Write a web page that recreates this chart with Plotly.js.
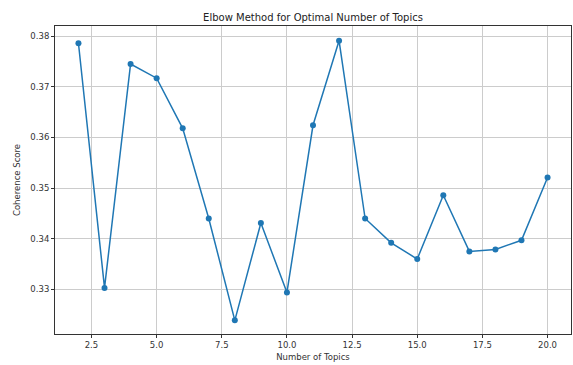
<!DOCTYPE html>
<html><head><meta charset="utf-8">
<script src="https://cdn.plot.ly/plotly-3.0.1.min.js"></script>
<style>html,body{margin:0;padding:0;background:#fff}#c{width:573px;height:365px}</style>
</head><body><div id="c"></div>
<script>
const numTopics = [2,3,4,5,6,7,8,9,10,11,12,13,14,15,16,17,18,19,20];
const coherence = [0.3786,0.3303,0.3745,0.3717,0.3618,0.3440,0.3239,0.3431,0.3294,0.3624,0.3791,0.3440,0.3392,0.3360,0.3486,0.3375,0.3379,0.3397,0.3521];
const xTicks = [2.5,5.0,7.5,10.0,12.5,15.0,17.5,20.0];
const xTickText = ["2.5","5.0","7.5","10.0","12.5","15.0","17.5","20.0"];
const yTicks = [0.33,0.34,0.35,0.36,0.37,0.38];
const yTickText = ["0.33","0.34","0.35","0.36","0.37","0.38"];

const font = {family:"DejaVu Sans, sans-serif", size:8.5, color:"#333"};
const axisCommon = {
  showline:true, linecolor:"#333", linewidth:1, mirror:true,
  ticks:"outside", ticklen:3, tickcolor:"#333", tickwidth:1,
  showgrid:true, gridcolor:"#cccccc", gridwidth:1, zeroline:false,
  tickfont:font
};
Plotly.newPlot("c",[{
  x:numTopics, y:coherence, mode:"lines+markers", type:"scatter",
  line:{color:"#1f77b4", width:1.5}, marker:{color:"#1f77b4", size:6}
}],{
  width:573, height:365,
  margin:{l:55,r:2,t:26,b:31},
  paper_bgcolor:"#fff", plot_bgcolor:"#fff",
  showlegend:false,
  title:{text:"Elbow Method for Optimal Number of Topics", font:{family:"DejaVu Sans, sans-serif", size:10, color:"#222"}, xref:"paper", x:0.5, xanchor:"center", yref:"container", y:0.951, yanchor:"middle"},
  xaxis:Object.assign({}, axisCommon, {range:[1.1,20.9], tickvals:xTicks, ticktext:xTickText,
    title:{text:"Number of Topics", font:{family:"DejaVu Sans, sans-serif", size:8.5, color:"#333"}, standoff:4}}),
  yaxis:Object.assign({}, axisCommon, {range:[0.3212,0.382], tickvals:yTicks, ticktext:yTickText,
    title:{text:"Coherence Score", font:{family:"DejaVu Sans, sans-serif", size:8.5, color:"#333"}, standoff:8}})
},{staticPlot:true});
</script></body></html>
